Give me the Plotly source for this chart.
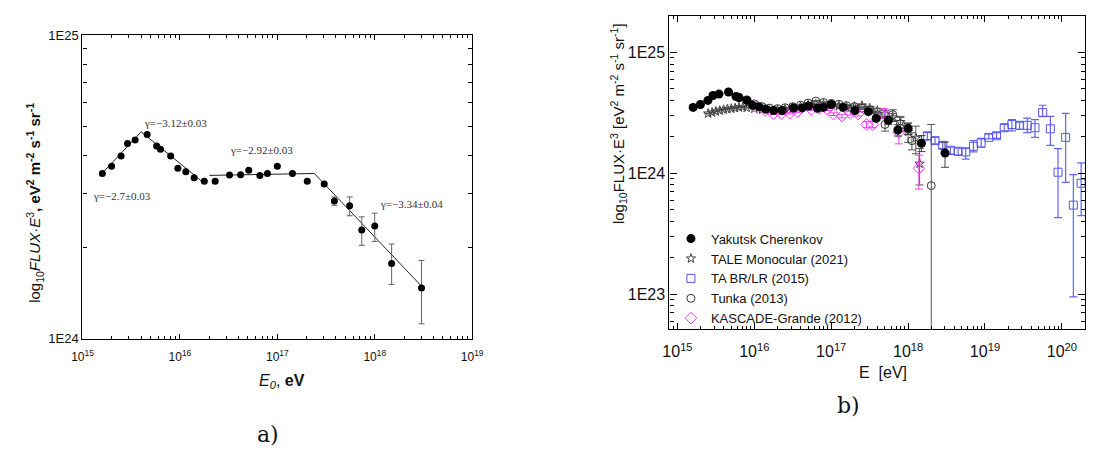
import numpy as np
import plotly.graph_objects as go

UNIT = 1e24

# ---------------- Yakutsk Cherenkov (panel a, also in b) ----------------
yak_E = [1.60e15, 1.99e15, 2.49e15, 2.90e15, 3.47e15, 4.61e15, 5.77e15, 6.32e15, 8.04e15, 9.53e15,
         1.15e16, 1.40e16, 1.78e16, 2.30e16, 3.23e16, 4.20e16, 5.09e16, 6.62e16, 7.91e16, 1.00e17,
         1.43e17, 2.03e17, 3.03e17, 3.85e17, 5.53e17, 7.36e17, 1.00e18, 1.49e18, 3.02e18]
yak_F = [3.50, 3.70, 4.00, 4.39, 4.51, 4.70, 4.31, 4.21, 4.00, 3.64,
         3.55, 3.39, 3.30, 3.30, 3.46, 3.47, 3.59, 3.45, 3.50, 3.70,
         3.50, 3.30, 3.23, 2.84, 2.74, 2.28, 2.35, 1.77, 1.47]
yak_up = [0, 0, 0, 0, 0, 0, 0, 0, 0, 0, 0, 0, 0, 0, 0, 0, 0, 0, 0, 0,
          0, 0, 0, 0.09, 0.19, 0.24, 0.24, 0.28, 0.34]
yak_dn = [0, 0, 0, 0, 0, 0, 0, 0, 0, 0, 0, 0, 0, 0, 0, 0, 0, 0, 0, 0,
          0, 0, 0, 0.09, 0.20, 0.25, 0.26, 0.26, 0.35]

# broken power-law fit nodes (panel a)
fit1_E = [1.53e15, 4.01e15, 1.78e16]
fit1_F = [3.46, 4.80, 3.25]
fit2_E = [2.01e16, 2.40e17, 3.02e18]
fit2_F = [3.45, 3.50, 1.49]

# ---------------- TALE Monocular (2021) ----------------
tale_E = [2.51e15, 2.82e15, 3.16e15, 3.55e15, 3.98e15, 4.47e15, 5.01e15, 5.62e15, 6.31e15, 7.08e15,
          7.94e15, 1.00e16, 1.26e16, 1.58e16, 2.00e16, 2.51e16, 3.16e16, 3.98e16, 5.01e16, 6.31e16,
          7.94e16, 1.00e17, 1.26e17, 1.58e17, 2.00e17, 2.51e17, 3.16e17, 3.98e17, 5.01e17, 6.31e17,
          7.94e17, 1.00e18, 1.26e18, 1.41e18]
tale_F = [3.12, 3.18, 3.25, 3.30, 3.35, 3.40, 3.42, 3.46, 3.50, 3.53,
          3.48, 3.42, 3.36, 3.32, 3.33, 3.38, 3.45, 3.55, 3.66, 3.72,
          3.72, 3.66, 3.60, 3.52, 3.55, 3.62, 3.45, 3.30, 3.10, 2.90,
          2.65, 2.20, 1.95, 1.20]
tale_err = [0.02, 0.02, 0.02, 0.02, 0.02, 0.02, 0.02, 0.02, 0.02, 0.02,
            0.02, 0.02, 0.02, 0.02, 0.03, 0.03, 0.03, 0.03, 0.04, 0.04,
            0.05, 0.05, 0.06, 0.07, 0.08, 0.12, 0.14, 0.15, 0.20, 0.22,
            0.30, 0.40, 0.50, 0.40]

# ---------------- TA BR/LR (2015) ----------------
ta_E = [1.78e18, 2.24e18, 2.82e18, 3.55e18, 4.47e18, 5.62e18, 7.08e18, 8.91e18, 1.12e19, 1.41e19,
        1.78e19, 2.24e19, 2.82e19, 3.55e19, 4.47e19, 5.62e19, 7.08e19, 8.91e19, 1.12e20, 1.41e20,
        1.78e20]
ta_F = [2.04, 1.86, 1.70, 1.55, 1.52, 1.50, 1.67, 1.78, 1.98, 2.04,
        2.38, 2.53, 2.49, 2.49, 2.38, 3.17, 2.33, 1.02, 1.98, 0.545,
        0.826]
ta_up = [0.13, 0.12, 0.10, 0.09, 0.09, 0.11, 0.19, 0.16, 0.12, 0.13,
         0.15, 0.24, 0.16, 0.37, 0.39, 0.48, 0.62, 0.58, 1.15, 0.43,
         0.39]
ta_dn = [0.15, 0.11, 0.10, 0.12, 0.11, 0.19, 0.17, 0.14, 0.06, 0.10,
         0.14, 0.29, 0.18, 0.32, 0.40, 0.22, 0.63, 0.59, 1.14, 0.45,
         0.38]

# ---------------- Tunka (2013) ----------------
tunka_E = [6.31e15, 7.94e15, 1.00e16, 1.26e16, 1.58e16, 2.00e16, 2.51e16, 3.16e16, 3.98e16, 5.01e16,
           6.31e16, 7.94e16, 1.00e17, 1.26e17, 1.58e17, 2.00e17, 2.51e17, 3.16e17, 3.98e17, 5.01e17,
           6.31e17, 7.94e17, 1.12e18, 2.00e18]
tunka_F = [4.25, 4.05, 3.75, 3.55, 3.45, 3.42, 3.48, 3.55, 3.65, 3.80,
           3.95, 3.85, 3.78, 3.72, 3.62, 3.55, 3.45, 3.30, 3.05, 2.53,
           3.05, 2.55, 1.86, 0.79]
tunka_up = [0.03, 0.03, 0.03, 0.03, 0.03, 0.03, 0.03, 0.03, 0.03, 0.04,
            0.04, 0.05, 0.05, 0.06, 0.07, 0.08, 0.09, 0.10, 0.15, 0.30,
            0.30, 0.35, 0.30, 1.74]
tunka_dn = [0.03, 0.03, 0.03, 0.03, 0.03, 0.03, 0.03, 0.03, 0.03, 0.04,
            0.04, 0.05, 0.05, 0.06, 0.07, 0.08, 0.09, 0.10, 0.15, 0.30,
            0.30, 0.35, 0.30, 0.789]

# ---------------- KASCADE-Grande (2012) ----------------
kg_E = [1.07e16, 1.38e16, 1.78e16, 2.24e16, 2.88e16, 3.63e16, 5.50e16, 6.92e16, 8.91e16, 1.07e17,
        1.38e17, 1.78e17, 2.24e17, 2.88e17, 3.47e17, 4.90e17, 7.59e17, 1.38e18]
kg_F = [3.52, 3.30, 3.11, 3.11, 3.14, 3.22, 3.37, 3.44, 3.37, 3.08,
        2.97, 3.13, 3.09, 2.53, 2.53, 3.10, 2.17, 1.10]
kg_up = [0.05, 0.05, 0.05, 0.05, 0.05, 0.05, 0.06, 0.06, 0.07, 0.08,
         0.10, 0.10, 0.12, 0.15, 0.15, 0.32, 0.21, 0.31]
kg_dn = [0.05, 0.05, 0.05, 0.05, 0.05, 0.05, 0.06, 0.06, 0.07, 0.08,
         0.10, 0.10, 0.12, 0.15, 0.15, 0.27, 0.42, 0.36]

# tick labels
a_xticks = [1e15, 1e16, 1e17, 1e18, 1e19]
a_xtext = ["10<sup>15</sup>", "10<sup>16</sup>", "10<sup>17</sup>", "10<sup>18</sup>", "10<sup>19</sup>"]
a_yticks = [1e24, 1e25]
a_ytext = ["1E24", "1E25"]
b_xticks = [1e15, 1e16, 1e17, 1e18, 1e19, 1e20]
b_xtext = ["10<sup>15</sup>", "10<sup>16</sup>", "10<sup>17</sup>", "10<sup>18</sup>",
           "10<sup>19</sup>", "10<sup>20</sup>"]
b_yticks = [1e23, 1e24, 1e25]
b_ytext = ["1E23", "1E24", "1E25"]


def sc(v):
    return (np.array(v, dtype=float) * UNIT).tolist()


W, H = 1102, 456
SANS = "Liberation Sans, Arial, sans-serif"
SERIF = "Liberation Serif, Times New Roman, serif"

fig = go.Figure()

# ---------- panel a ----------
fig.add_trace(go.Scatter(x=fit1_E, y=sc(fit1_F), mode="lines", line=dict(color="#222", width=1),
                         xaxis="x", yaxis="y", showlegend=False, hoverinfo="skip"))
fig.add_trace(go.Scatter(x=fit2_E, y=sc(fit2_F), mode="lines", line=dict(color="#222", width=1),
                         xaxis="x", yaxis="y", showlegend=False, hoverinfo="skip"))
fig.add_trace(go.Scatter(
    x=yak_E, y=sc(yak_F), mode="markers", xaxis="x", yaxis="y", showlegend=False,
    marker=dict(color="black", size=7, symbol="circle"),
    error_y=dict(type="data", symmetric=False, array=sc(yak_up), arrayminus=sc(yak_dn),
                 color="#666", thickness=1, width=3)))


# ---------- panel b ----------
def minor_list(e0, e1, lo, hi):
    out = []
    for e in range(e0, e1 + 1):
        for m in range(2, 10):
            v = m * 10.0 ** e
            if lo <= v <= hi:
                out.append(v)
    return out


fig.add_trace(go.Scatter(
    x=ta_E, y=sc(ta_F), mode="markers", xaxis="x2", yaxis="y2", name="TA BR/LR (2015)",
    legendrank=3,
    marker=dict(symbol="square-open", size=8, color="#5555f2", line=dict(width=1)),
    error_y=dict(type="data", symmetric=False, array=sc(ta_up), arrayminus=sc(ta_dn),
                 color="#6565f2", thickness=1.2, width=4)))
fig.add_trace(go.Scatter(
    x=tale_E, y=sc(tale_F), mode="markers", xaxis="x2", yaxis="y2", name="TALE Monocular (2021)",
    legendrank=2,
    marker=dict(symbol="star-open", size=7, color="#444", line=dict(width=1)),
    error_y=dict(type="data", array=sc(tale_err), color="#555", thickness=1, width=4)))
fig.add_trace(go.Scatter(
    x=tunka_E, y=sc(tunka_F), mode="markers", xaxis="x2", yaxis="y2", name="Tunka (2013)",
    legendrank=4,
    marker=dict(symbol="circle-open", size=8, color="#333", line=dict(width=1)),
    error_y=dict(type="data", symmetric=False, array=sc(tunka_up), arrayminus=sc(tunka_dn),
                 color="#555", thickness=1, width=4)))
fig.add_trace(go.Scatter(
    x=kg_E, y=sc(kg_F), mode="markers", xaxis="x2", yaxis="y2", name="KASCADE-Grande (2012)",
    legendrank=5,
    marker=dict(symbol="diamond-open", size=9, color="#f040f0", line=dict(width=1)),
    error_y=dict(type="data", symmetric=False, array=sc(kg_up), arrayminus=sc(kg_dn),
                 color="#f040f0", thickness=1, width=4)))
fig.add_trace(go.Scatter(
    x=yak_E, y=sc(yak_F), mode="markers", xaxis="x2", yaxis="y2", name="Yakutsk Cherenkov",
    legendrank=1,
    marker=dict(symbol="circle", size=9, color="black"),
    error_y=dict(type="data", symmetric=False, array=sc(yak_up), arrayminus=sc(yak_dn),
                 color="#444", thickness=1, width=4)))

axis_common = dict(type="log", showgrid=False, zeroline=False, showline=True, linecolor="black",
                   mirror="ticks", ticks="inside", tickcolor="black")

fig.update_layout(
    width=W, height=H, margin=dict(l=0, r=0, t=0, b=0),
    paper_bgcolor="white", plot_bgcolor="white",
    font=dict(family=SANS, color="#111"),
    xaxis=dict(axis_common, domain=[73 / W, 471 / W], range=[15, 19], anchor="y",
               tickmode="array", tickvals=a_xticks, ticktext=a_xtext, ticklen=5, linewidth=1.3,
               tickfont=dict(size=12, family=SANS), ticklabelstandoff=7,
               minor=dict(tickmode="array", tickvals=minor_list(15, 18, 1e15, 1e19),
                          ticks="inside", ticklen=3, tickcolor="black", showgrid=False)),
    yaxis=dict(axis_common, domain=[1 - 343 / H, 1 - 29 / H], range=[24, 25], anchor="x",
               tickmode="array", tickvals=a_yticks, ticktext=a_ytext, ticklen=5, linewidth=1.3,
               tickfont=dict(size=13, family=SANS),
               minor=dict(tickmode="array", tickvals=minor_list(24, 24, 1e24, 1e25),
                          ticks="inside", ticklen=4, tickcolor="black", showgrid=False)),
    xaxis2=dict(axis_common, domain=[672.5 / W, 1097.3 / W], range=[14.896, 20.306], anchor="y2",
                tickmode="array", tickvals=b_xticks, ticktext=b_xtext, ticklen=6, linewidth=1.3,
                tickfont=dict(size=16, family=SANS), ticklabelstandoff=8,
                minor=dict(tickmode="array", tickvals=minor_list(14, 20, 8e14, 2e20),
                           ticks="inside", ticklen=3, tickcolor="black", showgrid=False)),
    yaxis2=dict(axis_common, domain=[1 - 333 / H, 1 - 9.3 / H], range=[22.712, 25.30], anchor="x2",
                tickmode="array", tickvals=b_yticks, ticktext=b_ytext, ticklen=7, linewidth=1.3,
                tickfont=dict(size=16, family=SANS),
                minor=dict(tickmode="array", tickvals=minor_list(22, 25, 5.2e22, 1.99e25),
                           ticks="inside", ticklen=4, tickcolor="black", showgrid=False)),
    legend=dict(x=674 / W, y=1 - 224 / H, xanchor="left", yanchor="top",
                bgcolor="rgba(0,0,0,0)", font=dict(size=13, family=SANS, color="#111"),
                tracegroupgap=0, itemclick=False),
    showlegend=True,
)

ann = []
# gamma labels in panel a (log10 data coords)
gam = [("γ=−3.12±0.03", 15.956, 24.710), ("γ=−2.92±0.03", 16.841, 24.620),
       ("γ=−2.7±0.03", 15.402, 24.469), ("γ=−3.34±0.04", 18.373, 24.442)]
for t, gx, gy in gam:
    ann.append(dict(text=t, x=gx, y=gy, xref="x", yref="y", showarrow=False,
                    font=dict(family=SERIF, size=11, color="#333")))


def pann(text, px, py, size, family=SANS, angle=0):
    return dict(text=text, x=px / W, y=1 - py / H, xref="paper", yref="paper", showarrow=False,
                textangle=angle, font=dict(family=family, size=size, color="#111"),
                xanchor="center", yanchor="middle")


ann.append(pann("log<sub>10</sub><i>FLUX·E</i><sup>3</sup><b>, eV<sup>2</sup> m<sup>-2</sup> "
                "s<sup>-1</sup> sr<sup>-1</sup></b>", 24, 202, 15, angle=-90))
ann.append(pann("<i>E<sub>0</sub></i>, <b>eV</b>", 277, 387, 16))
ann.append(pann("a)", 262, 442, 22, family="DejaVu Serif, serif"))
ann.append(pann("log<sub>10</sub>FLUX·E<sup>3</sup> [eV<sup>2</sup> m<sup>-2</sup> s<sup>-1</sup> "
                "sr<sup>-1</sup>]", 620, 121, 15, angle=-90))
ann.append(pann("E  [eV]", 891, 378, 16))
ann.append(pann("b)", 855, 412, 22, family="DejaVu Serif, serif"))
fig.update_layout(annotations=ann)

fig.write_html("out.html", config={"displayModeBar": False},
               post_script="document.body.style.margin='0';document.body.style.overflow='hidden';")
